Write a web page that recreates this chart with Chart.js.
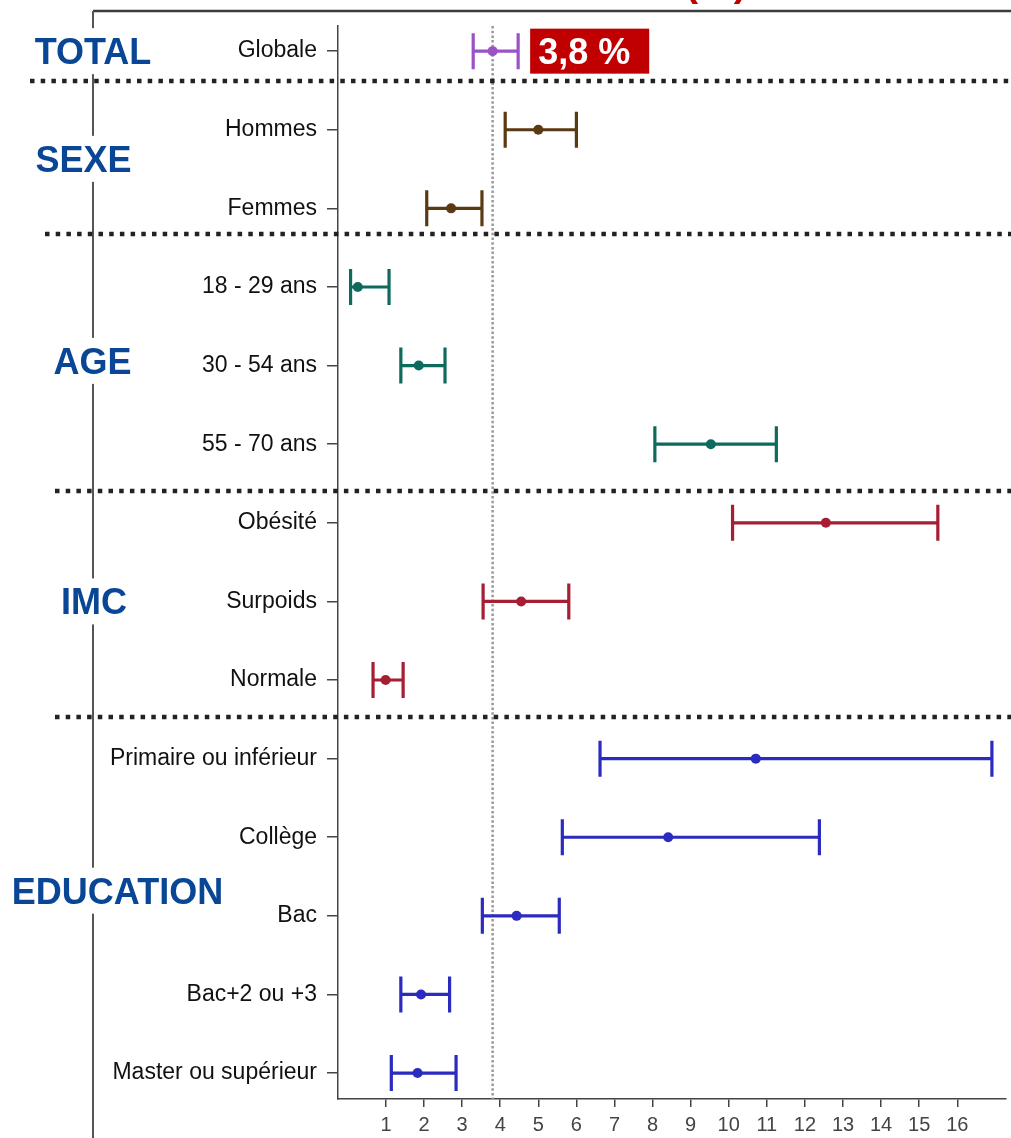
<!DOCTYPE html>
<html lang="fr">
<head>
<meta charset="utf-8">
<title>Prévalence (%)</title>
<script src="https://cdn.jsdelivr.net/npm/chart.js@4/dist/chart.umd.min.js"></script>
<style>
  html, body { margin: 0; padding: 0; background: #fff; }
  #wrap { position: relative; width: 1011px; height: 1138px; }
</style>
</head>
<body>
<div id="wrap"><canvas id="chart"></canvas></div>
<script>
// ---- Data ----
const categories = [
  'Globale',
  'Hommes', 'Femmes',
  '18 - 29 ans', '30 - 54 ans', '55 - 70 ans',
  'Obésité', 'Surpoids', 'Normale',
  'Primaire ou inférieur', 'Collège', 'Bac', 'Bac+2 ou +3', 'Master ou supérieur'
];
const estimates = [3.8, 5.0, 2.71, 0.26, 1.86, 9.53, 12.55, 4.55, 0.99, 10.71, 8.41, 4.43, 1.92, 1.83];
const lowerCI   = [3.29, 4.13, 2.07, 0.07, 1.39, 8.06, 10.10, 3.55, 0.66, 6.62, 5.63, 3.53, 1.39, 1.14];
const upperCI   = [4.47, 6.00, 3.52, 1.08, 2.55, 11.25, 15.49, 5.80, 1.45, 16.91, 12.38, 5.55, 2.67, 2.84];
const groupOfRow = [0, 1, 1, 2, 2, 2, 3, 3, 3, 4, 4, 4, 4, 4];
const groupNames = ['TOTAL', 'SEXE', 'AGE', 'IMC', 'EDUCATION'];
const xTickValues = [1, 2, 3, 4, 5, 6, 7, 8, 9, 10, 11, 12, 13, 14, 15, 16];
const overallValue = 3.8;
const overallLabel = '3,8 %';
const titleText = '(%)';

// ---- Styling / layout ----
const groupColors = ['#9a52c6', '#5b3a12', '#0f6a5e', '#a61e34', '#2b2bbf'];
const groupLabelLayout = [   // [x centre in px, row position on the y scale]
  [93, 0], [83.5, 1.37], [92.5, 3.94], [94, 7.0], [117.5, 10.68]
];
const separatorLayout = [    // [row position on the y scale, start x in px]
  [0.38, 30], [2.33, 45], [5.59, 55], [8.47, 55]
];
const LABEL_BLUE = '#0a4696';
const AXIS_GREY = '#444';

const points = estimates.map((v, i) => ({ x: v, y: i }));
const pointColors = groupOfRow.map(g => groupColors[g]);

// Frame lines behind everything
const framePlugin = {
  id: 'frame',
  beforeDraw(chart) {
    const { ctx, width, height } = chart;
    ctx.save();
    ctx.strokeStyle = '#3c3c3c';
    ctx.lineWidth = 2.5;
    ctx.beginPath();
    ctx.moveTo(93, 11); ctx.lineTo(width, 11);
    ctx.stroke();
    ctx.lineWidth = 2;
    ctx.strokeStyle = '#555';
    ctx.beginPath();
    ctx.moveTo(93, 11); ctx.lineTo(93, height);
    ctx.stroke();
    // title (mostly above the visible area)
    ctx.fillStyle = '#c00000';
    ctx.font = 'bold 40px "Liberation Sans", Arial, sans-serif';
    ctx.textAlign = 'right';
    ctx.textBaseline = 'alphabetic';
    ctx.fillText(titleText, 747, -4);
    ctx.restore();
  }
};

// Reference line and confidence-interval whiskers
const whiskerPlugin = {
  id: 'whiskers',
  beforeDatasetsDraw(chart) {
    const { ctx, chartArea, scales: { x, y } } = chart;
    ctx.save();
    // dashed reference line at the overall value
    const rx = x.getPixelForValue(overallValue);
    ctx.strokeStyle = '#9a9a9a';
    ctx.lineWidth = 2.5;
    ctx.setLineDash([2.5, 2.2]);
    ctx.beginPath();
    ctx.moveTo(rx, chartArea.top);
    ctx.lineTo(rx, chartArea.bottom);
    ctx.stroke();
    ctx.setLineDash([]);

    const capHalf = 18;
    ctx.lineWidth = 3.2;
    ctx.lineCap = 'butt';
    categories.forEach((c, i) => {
      const py = y.getPixelForValue(i);
      const x0 = x.getPixelForValue(lowerCI[i]);
      const x1 = x.getPixelForValue(upperCI[i]);
      ctx.strokeStyle = groupColors[groupOfRow[i]];
      ctx.beginPath();
      ctx.moveTo(x0, py); ctx.lineTo(x1, py);
      ctx.moveTo(x0, py - capHalf); ctx.lineTo(x0, py + capHalf);
      ctx.moveTo(x1, py - capHalf); ctx.lineTo(x1, py + capHalf);
      ctx.stroke();
    });
    ctx.restore();
  }
};

// Group separators, group labels and the overall value box
const annotationPlugin = {
  id: 'annotations',
  afterDraw(chart) {
    const { ctx, width, scales: { x, y } } = chart;
    ctx.save();

    // dotted separators
    ctx.strokeStyle = '#222';
    ctx.lineWidth = 4.5;
    ctx.setLineDash([4.5, 6.2]);
    separatorLayout.forEach(([row, sx]) => {
      const py = Math.round(y.getPixelForValue(row));
      ctx.beginPath();
      ctx.moveTo(sx, py);
      ctx.lineTo(width, py);
      ctx.stroke();
    });
    ctx.setLineDash([]);

    // group labels on a white ground
    ctx.font = 'bold 36px "Liberation Sans", Arial, sans-serif';
    ctx.textAlign = 'center';
    ctx.textBaseline = 'alphabetic';
    groupNames.forEach((name, g) => {
      const [cx, row] = groupLabelLayout[g];
      const cy = y.getPixelForValue(row);
      const w = ctx.measureText(name).width;
      ctx.fillStyle = '#fff';
      ctx.fillRect(cx - w / 2 - 4, cy - 23, w + 8, 46);
      ctx.fillStyle = LABEL_BLUE;
      ctx.fillText(name, cx, cy + 12.9);
    });

    // overall value box next to the first row
    const bx = x.getPixelForValue(upperCI[0]) + 12;
    const by = y.getPixelForValue(0);
    ctx.font = 'bold 36px "Liberation Sans", Arial, sans-serif';
    const tw = ctx.measureText(overallLabel).width;
    ctx.fillStyle = '#c00000';
    ctx.fillRect(bx, by - 22.5, tw + 27, 45);
    ctx.fillStyle = '#fff';
    ctx.textAlign = 'left';
    ctx.fillText(overallLabel, bx + 8, by + 12.9);
    ctx.restore();
  }
};

new Chart(document.getElementById('chart'), {
  type: 'scatter',
  data: {
    datasets: [{
      data: points,
      pointRadius: 5,
      pointHoverRadius: 5,
      pointBorderWidth: 0,
      pointBackgroundColor: pointColors,
      pointBorderColor: pointColors
    }]
  },
  options: {
    responsive: true,
    maintainAspectRatio: false,
    animation: false,
    events: [],
    layout: { padding: { top: 26, right: 4, left: 0, bottom: 0 } },
    plugins: {
      legend: { display: false },
      tooltip: { enabled: false },
      title: { display: false }
    },
    scales: {
      x: {
        type: 'linear',
        min: -0.26,
        max: 17.28,
        afterBuildTicks: (scale) => { scale.ticks = xTickValues.map(v => ({ value: v })); },
        afterFit: (scale) => { scale.height = 39; },
        grid: { drawOnChartArea: false, drawTicks: true, tickLength: 8, color: AXIS_GREY, lineWidth: 1.5 },
        border: { display: true, color: AXIS_GREY, width: 1.5 },
        ticks: {
          autoSkip: false,
          maxRotation: 0,
          padding: 6,
          color: '#444',
          font: { family: '"Liberation Sans Narrow", "Arial Narrow", "Liberation Sans", sans-serif', size: 20 },
          callback: (v) => String(v)
        }
      },
      y: {
        type: 'linear',
        reverse: true,
        min: -0.32,
        max: 13.33,
        afterBuildTicks: (scale) => { scale.ticks = categories.map((c, i) => ({ value: i })); },
        afterFit: (scale) => { scale.width = 338; },
        grid: { drawOnChartArea: false, drawTicks: true, tickLength: 11, color: AXIS_GREY, lineWidth: 1.5 },
        border: { display: true, color: AXIS_GREY, width: 1.5 },
        ticks: {
          autoSkip: false,
          padding: 10,
          color: '#111',
          font: { family: '"Liberation Sans", Arial, sans-serif', size: 23 },
          callback: (v) => categories[v]
        }
      }
    }
  },
  plugins: [framePlugin, whiskerPlugin, annotationPlugin]
});
</script>
</body>
</html>
